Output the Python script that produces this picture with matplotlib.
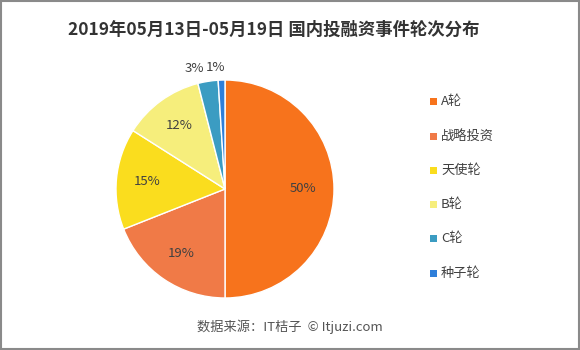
import numpy as np
import matplotlib.pyplot as plt
from matplotlib.patches import Rectangle

plt.rcParams['font.family'] = ['Noto Sans CJK SC', 'DejaVu Sans']

# data
rounds = ['A轮', '战略投资', '天使轮', 'B轮', 'C轮', '种子轮']
shares = [50, 19, 15, 12, 3, 1]
colors = ['#F7731C', '#F07A47', '#FADD1E', '#F6EE7C', '#3B9CC2', '#2E7FDA']

fig = plt.figure(figsize=(5.8, 3.5), dpi=100)
fig.patch.set_facecolor('white')

# pie axes: centre ~(225,189) px, radius ~109 px
ax = fig.add_axes([(225 - 109) / 580, 1 - (189 + 109) / 350, 218 / 580, 218 / 350])
wedges, texts = ax.pie(shares, colors=colors, startangle=90, counterclock=False,
                       wedgeprops={'edgecolor': 'white', 'linewidth': 1.0})
ax.set_xlim(-1, 1)
ax.set_ylim(-1, 1)
ax.set_aspect('equal')

# percentage labels (small slices sit outside, nudged apart)
ang = 90.0
for i, v in enumerate(shares):
    mid = ang - v * 3.6 / 2
    ang -= v * 3.6
    if v >= 10:
        r, dx = 0.72, 0.0
    else:
        r, dx = 1.115, (-0.11 if i == 4 else -0.055)
    x = r * np.cos(np.radians(mid)) + dx
    y = r * np.sin(np.radians(mid))
    ax.text(x, y, f'{v}%', ha='center', va='center', fontsize=9.5, color='#404040')

# legend
for i, (lab, c) in enumerate(zip(rounds, colors)):
    ypx = 102 + i * 34.2
    fig.patches.append(Rectangle((430 / 580, 1 - (ypx + 3.5) / 350), 7 / 580, 7 / 350,
                                 transform=fig.transFigure, facecolor=c, edgecolor='none'))
    fig.text(441 / 580, 1 - ypx / 350, lab, ha='left', va='center', fontsize=9.5, color='#404040')

fig.text(274 / 580, 1 - 30 / 350, '2019年05月13日-05月19日 国内投融资事件轮次分布',
         ha='center', va='center', fontsize=12.5, fontweight='bold', color='#333333')
fig.text(290 / 580, 1 - 327 / 350, '数据来源：IT桔子  © Itjuzi.com',
         ha='center', va='center', fontsize=9.5, color='#555555')

# frame
fig.patches.append(Rectangle((0.001, 0.002), 0.997, 0.995, transform=fig.transFigure,
                             facecolor='none', edgecolor='#8a8a8a', linewidth=1.5))

fig.savefig('out.png', dpi=100)
